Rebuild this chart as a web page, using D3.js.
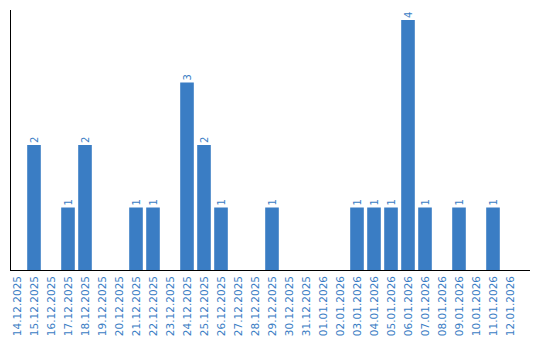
<!DOCTYPE html>
<html>
<head>
<meta charset="utf-8">
<script src="https://cdn.jsdelivr.net/npm/d3@7"></script>
<style>
	body { margin: 0; background: #fff; }
	text { font-family: "DejaVu Sans", Verdana, sans-serif; }
</style>
</head>
<body>
<div id="chart"></div>
<script>
// tages-daten
var days = ["14.12.2025", "15.12.2025", "16.12.2025", "17.12.2025", "18.12.2025", "19.12.2025",
	"20.12.2025", "21.12.2025", "22.12.2025", "23.12.2025", "24.12.2025", "25.12.2025",
	"26.12.2025", "27.12.2025", "28.12.2025", "29.12.2025", "30.12.2025", "31.12.2025",
	"01.01.2026", "02.01.2026", "03.01.2026", "04.01.2026", "05.01.2026", "06.01.2026",
	"07.01.2026", "08.01.2026", "09.01.2026", "10.01.2026", "11.01.2026", "12.01.2026"];
var counts = [0, 2, 0, 1, 2, 0, 0, 1, 1, 0, 3, 2, 1, 0, 0, 1, 0, 0, 0, 0, 1, 1, 1, 4, 1, 0, 1, 0, 1, 0];
var yDomain = [0, 4];

var width = 540, height = 340;
var color = "#3a7dc4";
var baseY = 270, topY = 20;

var svg = d3.select("#chart").append("svg")
	.attr("width", width)
	.attr("height", height);

var xScale = d3.scaleBand()
	.domain(days)
	.range([8.5, 518.5])
	.paddingInner(0.2)
	.paddingOuter(0.1);

var yScale = d3.scaleLinear()
	.domain(yDomain)
	.range([baseY, topY]);

var data = days.map(function(d, i) { return { day: d, value: counts[i] }; });

// balken
svg.selectAll("rect.bar")
	.data(data.filter(function(d) { return d.value > 0; }))
	.enter()
	.append("rect")
		.attr("class", "bar")
		.attr("x", function(d) { return xScale(d.day); })
		.attr("y", function(d) { return yScale(d.value); })
		.attr("width", xScale.bandwidth())
		.attr("height", function(d) { return baseY - yScale(d.value); })
		.style("fill", color);

// werte über den balken
svg.selectAll("text.val")
	.data(data.filter(function(d) { return d.value > 0; }))
	.enter()
	.append("text")
		.attr("class", "val")
		.attr("transform", function(d) {
			return "translate(" + (xScale(d.day) + xScale.bandwidth() / 2 + 3.5) + "," + (yScale(d.value) - 2) + ") rotate(-90)";
		})
		.attr("text-anchor", "start")
		.style("font-size", "10px")
		.style("fill", color)
		.text(function(d) { return d.value; });

// achsen
svg.append("line")
	.attr("x1", 10.5).attr("x2", 10.5)
	.attr("y1", 10).attr("y2", baseY)
	.style("stroke", "#000");

svg.append("line")
	.attr("x1", 10).attr("x2", 530)
	.attr("y1", baseY + 0.5).attr("y2", baseY + 0.5)
	.style("stroke", "#000");

// datums-beschriftung
svg.selectAll("text.day")
	.data(days)
	.enter()
	.append("text")
		.attr("class", "day")
		.attr("transform", function(d) {
			return "translate(" + (xScale(d) + xScale.bandwidth() / 2 + 3.5) + "," + (baseY + 6) + ") rotate(-90)";
		})
		.attr("text-anchor", "end")
		.style("font-size", "10.5px")
		.style("fill", color)
		.text(function(d) { return d; });
</script>
</body>
</html>
